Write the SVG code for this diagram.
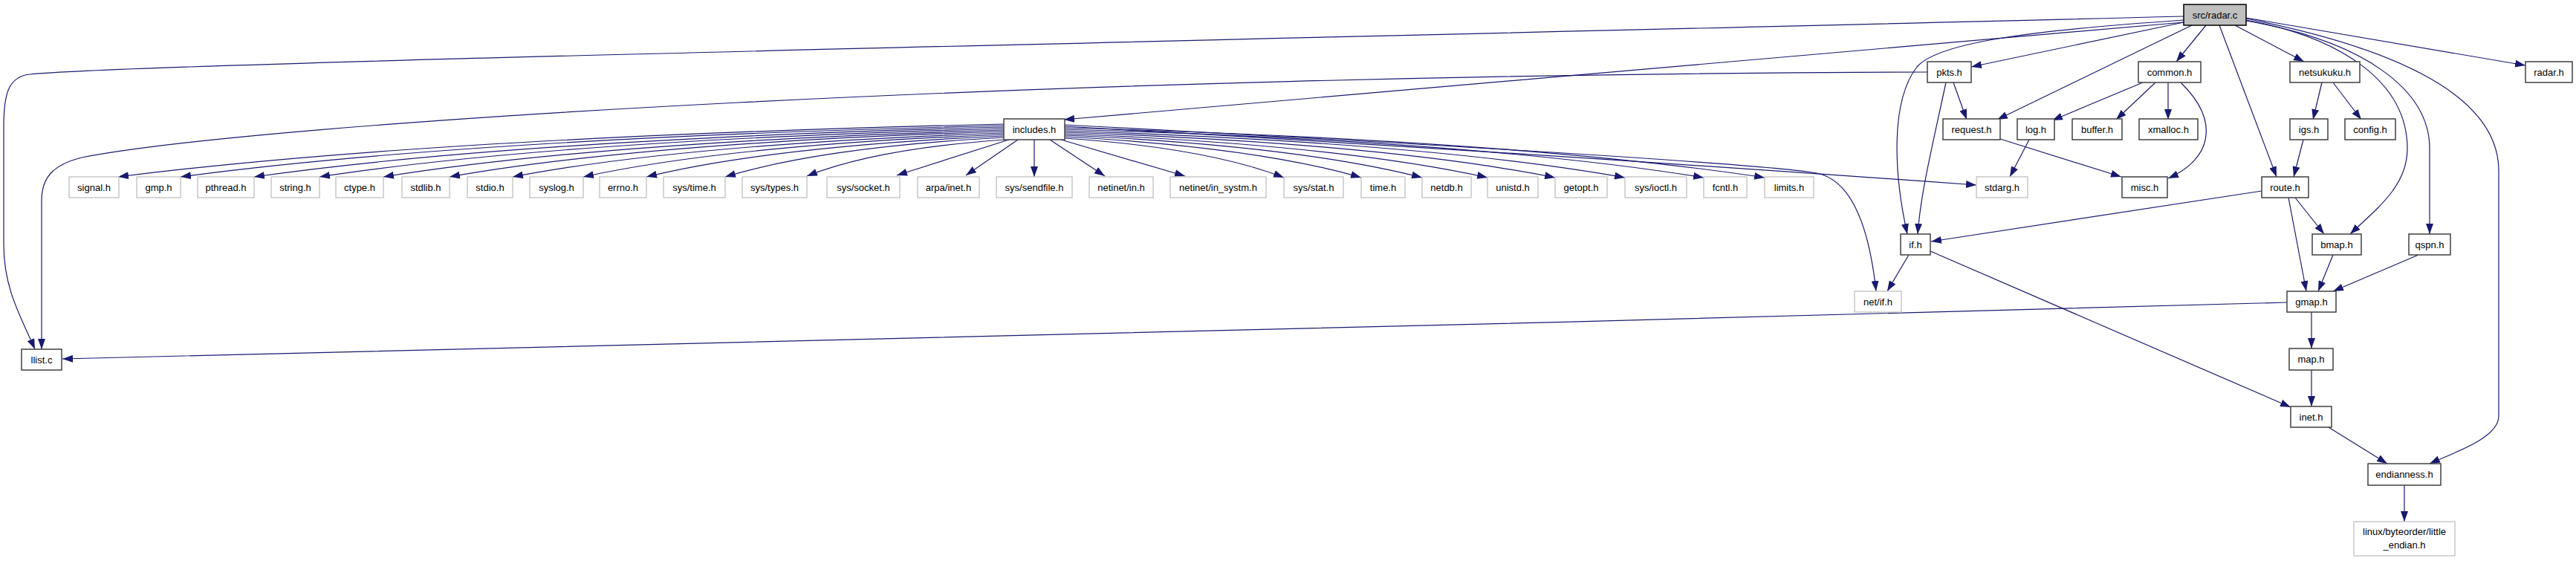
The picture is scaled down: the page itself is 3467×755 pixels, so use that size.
<svg xmlns="http://www.w3.org/2000/svg" width="3467" height="755" viewBox="0 0 3467 755">
<style>
.n rect{fill:#fff;stroke:#404040;stroke-width:1.5}
.g rect{fill:#fff;stroke:#c8c8c8;stroke-width:1.5}
.r rect{fill:#bfbfbf;stroke:#000;stroke-width:1.5}
text{font-family:"Liberation Sans",Arial,sans-serif;font-size:13px;fill:#000;text-anchor:middle}
#edges path{fill:none;stroke:#191970;stroke-width:1.2;marker-end:url(#a)}
</style>
<defs>
<marker id="a" markerWidth="14" markerHeight="10" refX="14" refY="5" orient="auto" markerUnits="userSpaceOnUse"><path d="M0,0 L14,5 L0,10 z" fill="#191970"/></marker>
</defs>
<rect width="3467" height="755" fill="#fff"/>
<g id="edges">
<path d="M2939,22 C1500,58 200,85 40,100 C12,103 5,125 5,170 L5,330 C5,390 30,430 47,470"/>
<path d="M2594,97 C1400,100 350,165 110,212 C70,222 56,240 56,270 L56,470"/>
<path d="M2939,30 L1432,161"/>
<path d="M2939,30 L2653,90"/>
<path d="M2939,27 C2750,40 2610,55 2580,90 C2545,135 2548,230 2567,315"/>
<path d="M2950,34 L2688,161"/>
<path d="M2969,34 L2929,83"/>
<path d="M2987,34 L3064,238"/>
<path d="M3008,34 L3101,83"/>
<path d="M3023,24 L3399,88"/>
<path d="M3023,27 C3150,50 3240,110 3240,200 C3240,250 3200,280 3163,315"/>
<path d="M3023,28 C3180,55 3270,120 3270,200 L3270,315"/>
<path d="M3023,25 C3200,60 3363,120 3363,230 L3363,560 C3363,590 3300,610 3270,624"/>
<path d="M2629,111 L2647,161"/>
<path d="M2619,111 C2600,200 2585,260 2581,315"/>
<path d="M2884,111 L2762,162"/>
<path d="M2901,111 L2848,161"/>
<path d="M2918,111 L2918,161"/>
<path d="M2935,111 C2990,165 2975,215 2918,240"/>
<path d="M2731,188 L2705,238"/>
<path d="M2692,187 L2855,238"/>
<path d="M3125,111 L3113,161"/>
<path d="M3140,111 L3178,161"/>
<path d="M3100,188 L3087,238"/>
<path d="M3044,257 L2599,325"/>
<path d="M3089,266 L3128,315"/>
<path d="M3080,266 L3104,392"/>
<path d="M3140,343 L3120,392"/>
<path d="M3255,343 L3140,392"/>
<path d="M3111,420 L3111,469"/>
<path d="M3078,407 C2000,436 500,478 84,483"/>
<path d="M2569,343 L2540,392"/>
<path d="M2598,338 L3083,548"/>
<path d="M3111,498 L3111,547"/>
<path d="M3134,575 L3213,624"/>
<path d="M3236,653 L3236,702"/>
<path d="M1351,167 Q576,185 159,238"/>
<path d="M1351,169 Q631,186 243,238"/>
<path d="M1351,171 Q695,188 342,238"/>
<path d="M1351,173 Q752,189 430,238"/>
<path d="M1351,175 Q808,191 516,238"/>
<path d="M1351,177 Q866,192 605,238"/>
<path d="M1351,179 Q921,194 690,238"/>
<path d="M1351,181 Q983,195 785,238"/>
<path d="M1351,183 Q1038,197 870,238"/>
<path d="M1351,185 Q1107,198 976,238"/>
<path d="M1353,188 Q1179,200 1086,237"/>
<path d="M1358,188 L1207,236"/>
<path d="M1370,188 L1300,236"/>
<path d="M1392,188 L1392,238"/>
<path d="M1413,188 L1487,237"/>
<path d="M1428,188 L1595,237"/>
<path d="M1433,186 Q1625,199 1728,239"/>
<path d="M1433,184 Q1692,198 1832,239"/>
<path d="M1433,182 Q1746,196 1914,239"/>
<path d="M1433,180 Q1803,195 2002,239"/>
<path d="M1433,178 Q1862,193 2093,239"/>
<path d="M1433,176 Q1923,192 2187,239"/>
<path d="M1433,174 Q1992,190 2293,239"/>
<path d="M1433,172 Q2045,189 2375,239"/>
<path d="M1433,170 Q2050,205 2660,249"/>
<path d="M1433,168 C2000,198 2380,222 2445,233 C2490,242 2515,300 2525,392"/>
</g>
<g id="n_radar_c" class="r"><rect x="2939" y="6" width="84" height="28"/><text x="2981" y="24.5">src/radar.c</text></g>
<g id="n_pkts_h" class="n"><rect x="2594" y="83" width="59" height="28"/><text x="2623.5" y="101.5">pkts.h</text></g>
<g id="n_common_h" class="n"><rect x="2878" y="83" width="84" height="28"/><text x="2920" y="101.5">common.h</text></g>
<g id="n_netsukuku_h" class="n"><rect x="3082" y="83" width="94" height="28"/><text x="3129" y="101.5">netsukuku.h</text></g>
<g id="n_radar_h" class="n"><rect x="3399" y="83" width="63" height="28"/><text x="3430.5" y="101.5">radar.h</text></g>
<g id="n_includes_h" class="n"><rect x="1351" y="160" width="82" height="28"/><text x="1392" y="178.5">includes.h</text></g>
<g id="n_request_h" class="n"><rect x="2615" y="160" width="77" height="28"/><text x="2653.5" y="178.5">request.h</text></g>
<g id="n_log_h" class="n"><rect x="2715" y="160" width="50" height="28"/><text x="2740" y="178.5">log.h</text></g>
<g id="n_buffer_h" class="n"><rect x="2789" y="160" width="67" height="28"/><text x="2822.5" y="178.5">buffer.h</text></g>
<g id="n_xmalloc_h" class="n"><rect x="2879" y="160" width="79" height="28"/><text x="2918.5" y="178.5">xmalloc.h</text></g>
<g id="n_igs_h" class="n"><rect x="3082" y="160" width="51" height="28"/><text x="3107.5" y="178.5">igs.h</text></g>
<g id="n_config_h" class="n"><rect x="3156" y="160" width="68" height="28"/><text x="3190" y="178.5">config.h</text></g>
<g id="n_signal_h" class="g"><rect x="93" y="238" width="67" height="28"/><text x="126.5" y="256.5">signal.h</text></g>
<g id="n_gmp_h" class="g"><rect x="184" y="238" width="59" height="28"/><text x="213.5" y="256.5">gmp.h</text></g>
<g id="n_pthread_h" class="g"><rect x="266" y="238" width="76" height="28"/><text x="304" y="256.5">pthread.h</text></g>
<g id="n_string_h" class="g"><rect x="365" y="238" width="65" height="28"/><text x="397.5" y="256.5">string.h</text></g>
<g id="n_ctype_h" class="g"><rect x="452" y="238" width="64" height="28"/><text x="484" y="256.5">ctype.h</text></g>
<g id="n_stdlib_h" class="g"><rect x="541" y="238" width="64" height="28"/><text x="573" y="256.5">stdlib.h</text></g>
<g id="n_stdio_h" class="g"><rect x="629" y="238" width="61" height="28"/><text x="659.5" y="256.5">stdio.h</text></g>
<g id="n_syslog_h" class="g"><rect x="713" y="238" width="72" height="28"/><text x="749" y="256.5">syslog.h</text></g>
<g id="n_errno_h" class="g"><rect x="807" y="238" width="63" height="28"/><text x="838.5" y="256.5">errno.h</text></g>
<g id="n_sys_time_h" class="g"><rect x="893" y="238" width="83" height="28"/><text x="934.5" y="256.5">sys/time.h</text></g>
<g id="n_sys_types_h" class="g"><rect x="999" y="238" width="87" height="28"/><text x="1042.5" y="256.5">sys/types.h</text></g>
<g id="n_sys_socket_h" class="g"><rect x="1113" y="238" width="98" height="28"/><text x="1162" y="256.5">sys/socket.h</text></g>
<g id="n_arpa_inet_h" class="g"><rect x="1235" y="238" width="83" height="28"/><text x="1276.5" y="256.5">arpa/inet.h</text></g>
<g id="n_sys_sendfile_h" class="g"><rect x="1341" y="238" width="102" height="28"/><text x="1392" y="256.5">sys/sendfile.h</text></g>
<g id="n_netinet_in_h" class="g"><rect x="1466" y="238" width="86" height="28"/><text x="1509" y="256.5">netinet/in.h</text></g>
<g id="n_netinet_in_systm_h" class="g"><rect x="1575" y="238" width="129" height="28"/><text x="1639.5" y="256.5">netinet/in_systm.h</text></g>
<g id="n_sys_stat_h" class="g"><rect x="1728" y="238" width="80" height="28"/><text x="1768" y="256.5">sys/stat.h</text></g>
<g id="n_time_h" class="g"><rect x="1832" y="238" width="59" height="28"/><text x="1861.5" y="256.5">time.h</text></g>
<g id="n_netdb_h" class="g"><rect x="1914" y="238" width="66" height="28"/><text x="1947" y="256.5">netdb.h</text></g>
<g id="n_unistd_h" class="g"><rect x="2002" y="238" width="68" height="28"/><text x="2036" y="256.5">unistd.h</text></g>
<g id="n_getopt_h" class="g"><rect x="2093" y="238" width="70" height="28"/><text x="2128" y="256.5">getopt.h</text></g>
<g id="n_sys_ioctl_h" class="g"><rect x="2187" y="238" width="83" height="28"/><text x="2228.5" y="256.5">sys/ioctl.h</text></g>
<g id="n_fcntl_h" class="g"><rect x="2293" y="238" width="58" height="28"/><text x="2322" y="256.5">fcntl.h</text></g>
<g id="n_limits_h" class="g"><rect x="2375" y="238" width="66" height="28"/><text x="2408" y="256.5">limits.h</text></g>
<g id="n_stdarg_h" class="g"><rect x="2660" y="238" width="69" height="28"/><text x="2694.5" y="256.5">stdarg.h</text></g>
<g id="n_misc_h" class="n"><rect x="2856" y="238" width="61" height="28"/><text x="2886.5" y="256.5">misc.h</text></g>
<g id="n_route_h" class="n"><rect x="3044" y="238" width="63" height="28"/><text x="3075.5" y="256.5">route.h</text></g>
<g id="n_if_h" class="n"><rect x="2558" y="315" width="40" height="28"/><text x="2578" y="333.5">if.h</text></g>
<g id="n_bmap_h" class="n"><rect x="3112" y="315" width="66" height="28"/><text x="3145" y="333.5">bmap.h</text></g>
<g id="n_qspn_h" class="n"><rect x="3242" y="315" width="56" height="28"/><text x="3270" y="333.5">qspn.h</text></g>
<g id="n_net_if_h" class="g"><rect x="2496" y="392" width="63" height="28"/><text x="2527.5" y="410.5">net/if.h</text></g>
<g id="n_gmap_h" class="n"><rect x="3078" y="392" width="66" height="28"/><text x="3111" y="410.5">gmap.h</text></g>
<g id="n_llist_c" class="n"><rect x="29" y="470" width="54" height="28"/><text x="56" y="488.5">llist.c</text></g>
<g id="n_map_h" class="n"><rect x="3081" y="469" width="59" height="29"/><text x="3110.5" y="488">map.h</text></g>
<g id="n_inet_h" class="n"><rect x="3083" y="547" width="55" height="28"/><text x="3110.5" y="565.5">inet.h</text></g>
<g id="n_endianness_h" class="n"><rect x="3187" y="624" width="98" height="29"/><text x="3236" y="643">endianness.h</text></g>
<g id="n_linux_byteorder" class="g"><rect x="3168" y="702" width="136" height="46"/><text x="3236" y="720">linux/byteorder/little</text><text x="3236" y="738">_endian.h</text></g>
</svg>
